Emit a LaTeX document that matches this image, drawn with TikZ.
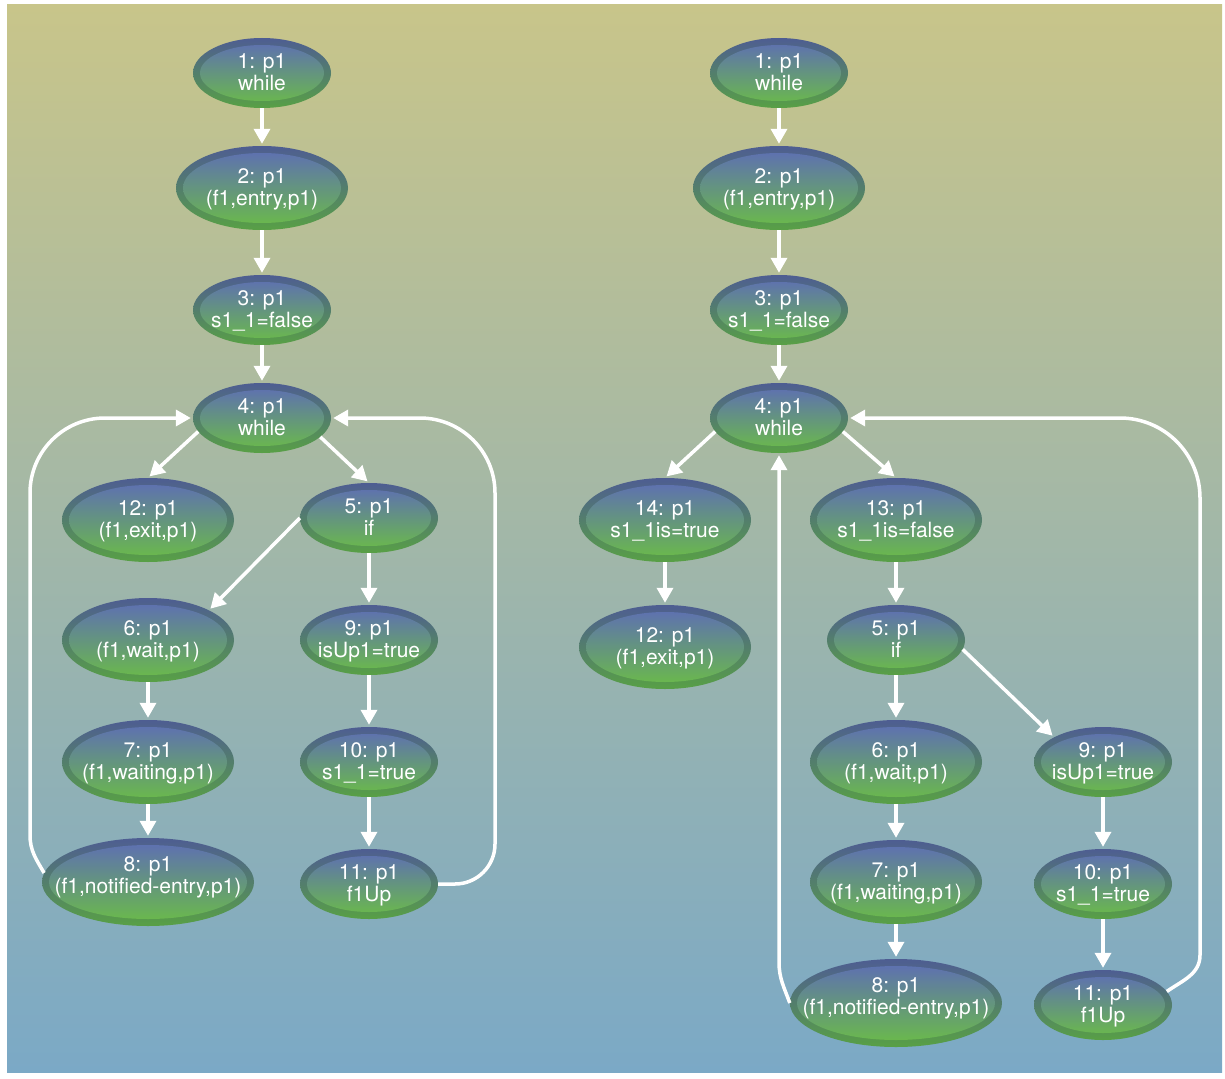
\documentclass[tikz,border=0pt]{standalone}
\usepackage{fontspec}
\setmainfont{TeX Gyre Heros}
\usetikzlibrary{shapes.geometric,arrows.meta}

\definecolor{bgTop}{HTML}{C8C58A}
\definecolor{bgBot}{HTML}{7BA9C6}
\definecolor{ringTop}{HTML}{4E5D92}
\definecolor{ringBot}{HTML}{58A045}
\definecolor{fillTop}{HTML}{5D6BB8}
\definecolor{fillBot}{HTML}{6BBE45}

% two centred lines of state text, zero width so the ellipse keeps its set size;
% the optional argument sets the vertical offset of the text block
\newcommand\twoline[3][-7.6pt]{\makebox[0pt]{\raisebox{#1}[20pt][20pt]{\begin{tabular}{@{}c@{}}#2\\#3\end{tabular}}}}

\begin{document}
\begin{tikzpicture}[x=1pt,y=1pt,
  statebase/.style n args={4}{ellipse, draw=none, inner sep=0pt,
    minimum width=#1, minimum height=#2,
    top color=ringTop, bottom color=ringBot,
    text=white, font=\fontsize{21}{22}\selectfont,
    path picture={\shade[top color=fillTop,bottom color=fillBot]
      (path picture bounding box.center) ellipse [x radius=#3, y radius=#4];}},
  sstate/.style={statebase={138pt}{70pt}{62pt}{28pt}},
  mstate/.style={statebase={172pt}{84pt}{79pt}{35pt}},
  lstate/.style={statebase={212pt}{88pt}{99pt}{37pt}},
  edge/.style={draw=white, line width=3.5pt,
    -{Triangle[width=16pt,length=15pt]}, shorten >=2pt},
]
\useasboundingbox (0,0) rectangle (1225,-1078);
\shade[top color=bgTop, bottom color=bgBot] (7,-5) rectangle (1222,-1072);

% ---- left graph ----
\node[sstate] (L1)  at (262,-73)  {\twoline{1: p1}{while}};
\node[mstate] (L2)  at (262,-188) {\twoline{2: p1}{(f1,entry,p1)}};
\node[sstate] (L3)  at (262,-310) {\twoline{3: p1}{s1\_1=false}};
\node[sstate] (L4)  at (262,-418) {\twoline{4: p1}{while}};
\node[mstate] (L12) at (148,-520) {\twoline{12: p1}{(f1,exit,p1)}};
\node[sstate] (L5)  at (369,-518) {\twoline{5: p1}{if}};
\node[mstate] (L6)  at (148,-640) {\twoline{6: p1}{(f1,wait,p1)}};
\node[sstate] (L9)  at (369,-640) {\twoline{9: p1}{isUp1=true}};
\node[mstate] (L7)  at (148,-762) {\twoline{7: p1}{(f1,waiting,p1)}};
\node[sstate] (L10) at (369,-762) {\twoline{10: p1}{s1\_1=true}};
\node[lstate] (L8)  at (148,-882) {\twoline[-1.6pt]{8: p1}{(f1,notified-entry,p1)}};
\node[sstate] (L11) at (369,-884) {\twoline{11: p1}{f1Up}};

\draw[edge] (L1) -- (L2);
\draw[edge] (L2) -- (L3);
\draw[edge] (L3) -- (L4);
\draw[edge] (L4.192) -- (L12.north);
\draw[edge] (L4.-18) -- (L5.north);
\draw[edge] (L5.west) -- (L6.north east);
\draw[edge] (L5) -- (L9);
\draw[edge] (L9) -- (L10);
\draw[edge] (L10) -- (L11);
\draw[edge] (L6) -- (L7);
\draw[edge] (L7) -- (L8);

\coordinate (la) at (30,-835);
\coordinate (ra) at (495,-650);
\draw[edge] (L8.175) to[out=120,in=-90] (la) [rounded corners=75pt] |- (L4.west);
\draw[edge] (L11.east) [rounded corners=40pt] -| (ra) [rounded corners=75pt] |- (L4.east);

% ---- right graph ----
\node[sstate] (R1)  at (779,-73)   {\twoline{1: p1}{while}};
\node[mstate] (R2)  at (779,-188)  {\twoline{2: p1}{(f1,entry,p1)}};
\node[sstate] (R3)  at (779,-310)  {\twoline{3: p1}{s1\_1=false}};
\node[sstate] (R4)  at (779,-418)  {\twoline{4: p1}{while}};
\node[mstate] (R14) at (665,-520)  {\twoline{14: p1}{s1\_1is=true}};
\node[mstate] (R13) at (896,-520)  {\twoline{13: p1}{s1\_1is=false}};
\node[mstate] (R12) at (665,-647)  {\twoline{12: p1}{(f1,exit,p1)}};
\node[sstate] (R5)  at (896,-640)  {\twoline{5: p1}{if}};
\node[mstate] (R6)  at (896,-762)  {\twoline{6: p1}{(f1,wait,p1)}};
\node[sstate] (R9)  at (1103,-762) {\twoline{9: p1}{isUp1=true}};
\node[mstate] (R7)  at (896,-882)  {\twoline{7: p1}{(f1,waiting,p1)}};
\node[sstate] (R10) at (1103,-884) {\twoline{10: p1}{s1\_1=true}};
\node[lstate] (R8)  at (896,-1003) {\twoline[-1.6pt]{8: p1}{(f1,notified-entry,p1)}};
\node[sstate] (R11) at (1103,-1005) {\twoline{11: p1}{f1Up}};

\draw[edge] (R1) -- (R2);
\draw[edge] (R2) -- (R3);
\draw[edge] (R3) -- (R4);
\draw[edge] (R4.192) -- (R14.north);
\draw[edge] (R4.-12) -- (R13.north);
\draw[edge] (R14) -- (R12);
\draw[edge] (R13) -- (R5);
\draw[edge] (R5) -- (R6);
\draw[edge] (R5.-8) -- (R9.north west);
\draw[edge] (R6) -- (R7);
\draw[edge] (R7) -- (R8);
\draw[edge] (R9) -- (R10);
\draw[edge] (R10) -- (R11);

\coordinate (rb) at (779,-962);
\coordinate (rc) at (1200,-955);
\draw[edge] (R8.west) to[out=110,in=-90] (rb) -- (R4.south);
\draw[edge] (R11.12) to[out=35,in=-90] (rc) [rounded corners=80pt] |- (R4.east);
\end{tikzpicture}
\end{document}
